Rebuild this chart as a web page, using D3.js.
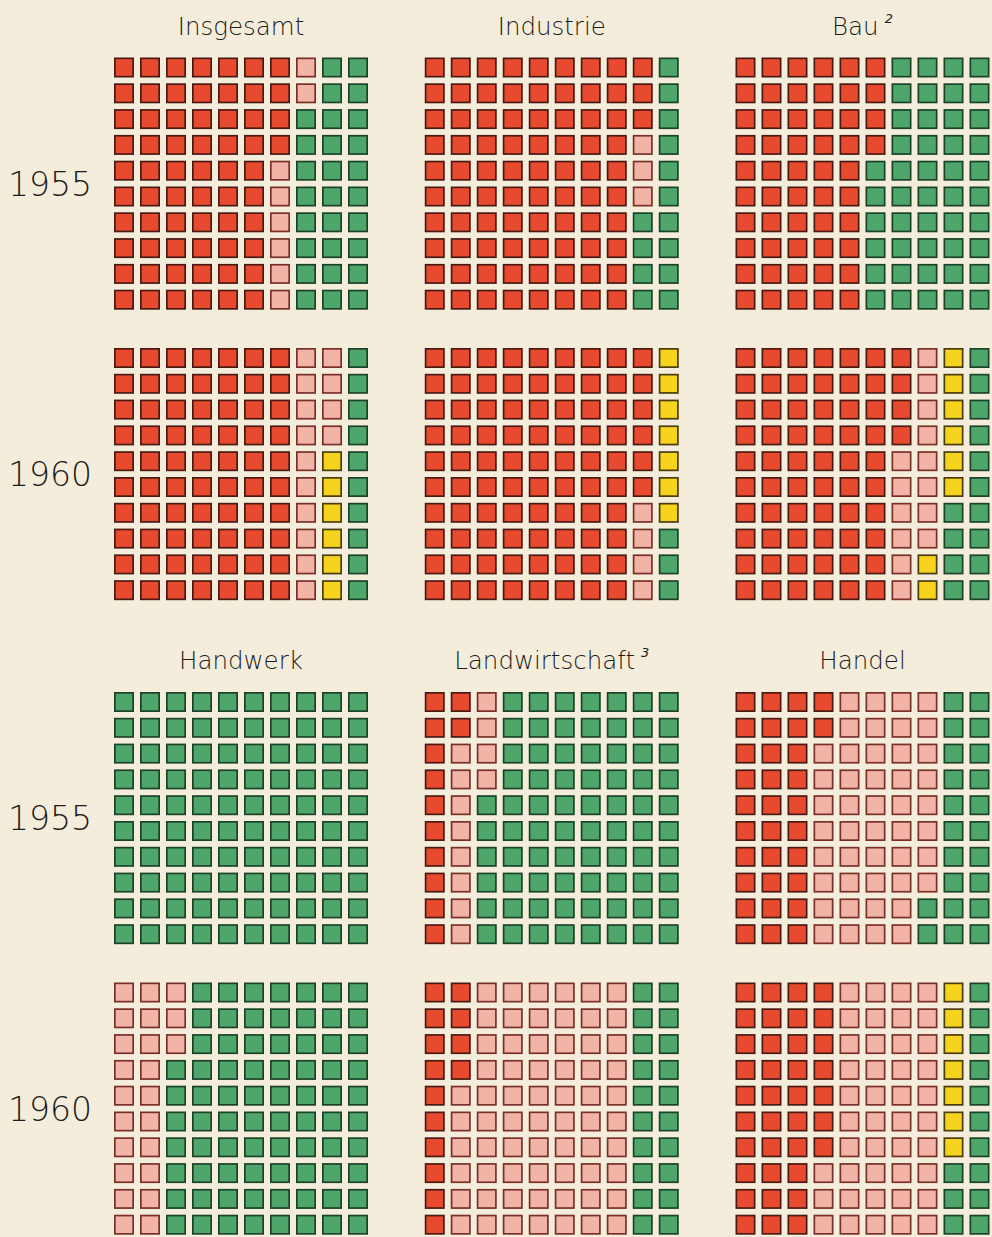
<!DOCTYPE html>
<html>
<head>
<meta charset="utf-8">
<script src="https://cdn.jsdelivr.net/npm/d3@7"></script>
<style>
  html, body { margin: 0; padding: 0; background: #f4eddb; }
  svg { display: block; }
  text { font-family: "DejaVu Sans", Lato, sans-serif; fill: #1c1c1c; }
</style>
</head>
<body>
<div id="chart"></div>
<script>
// Eigentumsformen, Anteile in Prozent (1 Quadrat = 1 %)
const sectors = ["Insgesamt", "Industrie", "Bau", "Handwerk", "Landwirtschaft", "Handel"];
const notes = ["", "", "2", "", "3", ""];
const years = ["1955", "1960"];
const categories = ["staatlich", "genossenschaftlich", "halbstaatlich", "privat"];

const staatlich1955 = [64, 83, 54, 0, 12, 32];
const genossen1955  = [8, 3, 0, 0, 12, 46];
const halbstaat1955 = [0, 0, 0, 0, 0, 0];
const privat1955    = [28, 14, 46, 100, 76, 22];

const staatlich1960 = [70, 86, 64, 0, 14, 37];
const genossen1960  = [14, 4, 14, 23, 66, 43];
const halbstaat1960 = [6, 7, 8, 0, 0, 7];
const privat1960    = [10, 3, 14, 77, 20, 13];

const colors = {
    staatlich: "#e84a2f",
    genossenschaftlich: "#f1b4a7",
    halbstaatlich: "#f6d31c",
    privat: "#4ea66a"
};
const strokes = {
    staatlich: "#4a1a12",
    genossenschaftlich: "#7a3028",
    halbstaatlich: "#4a3c0c",
    privat: "#1b4329"
};

const width = 992, height = 1237;

const svg = d3.select("#chart")
    .append("svg")
    .attr("width", width)
    .attr("height", height);

svg.append("rect")
    .attr("width", width)
    .attr("height", height)
    .attr("fill", "#f4eddb");

// panel placement
const colX = d3.scalePoint().domain([0, 1, 2]).range([114, 735.5]);
const blockY = d3.scalePoint().domain([0, 1]).range([57.5, 692]);
const yearOffset = 290.5;

// cells inside a panel
const cx = d3.scaleBand().domain(d3.range(10)).range([0, 9 * 26 + 20]).paddingInner(6 / 26);
const cy = d3.scaleBand().domain(d3.range(10)).range([0, 9 * 25.8 + 20]).paddingInner(5.8 / 25.8);

const byYear = {
    "1955": [staatlich1955, genossen1955, halbstaat1955, privat1955],
    "1960": [staatlich1960, genossen1960, halbstaat1960, privat1960]
};

const panels = [];
sectors.forEach((s, i) => {
    years.forEach((yr, j) => {
        const cells = [];
        categories.forEach((c, k) => {
            const n = byYear[yr][k][i];
            for (let m = 0; m < n; m++) cells.push(c);
        });
        panels.push({sector: s, idx: i, year: yr, yi: j, cells: cells});
    });
});

const g = svg.selectAll("g.panel")
    .data(panels)
    .enter()
    .append("g")
    .attr("class", "panel")
    .attr("transform", d => "translate(" + colX(d.idx % 3) + "," + (blockY(Math.floor(d.idx / 3)) + d.yi * yearOffset) + ")");

const inset = 0.85;
g.selectAll("rect")
    .data(d => d.cells.map((c, i) => ({cat: c, col: Math.floor(i / 10), row: i % 10})))
    .enter()
    .append("rect")
    .attr("x", d => cx(d.col) + inset)
    .attr("y", d => cy(d.row) + inset)
    .attr("width", cx.bandwidth() - 2 * inset)
    .attr("height", cy.bandwidth() - 2 * inset)
    .attr("fill", d => colors[d.cat])
    .attr("stroke", d => strokes[d.cat])
    .attr("stroke-width", 1.7);

// sector titles
const titles = svg.selectAll("text.title")
    .data(sectors)
    .enter()
    .append("text")
    .attr("class", "title")
    .attr("x", (d, i) => colX(i % 3) + (9 * 26 + 20) / 2)
    .attr("y", (d, i) => blockY(Math.floor(i / 3)) - 23)
    .attr("text-anchor", "middle")
    .style("font-size", "24.5px")
    .style("font-weight", 200);

titles.append("tspan").text(d => d);
titles.append("tspan")
    .attr("dx", 6)
    .attr("dy", -12)
    .style("font-size", "13px")
    .style("font-style", "italic")
    .text((d, i) => notes[i]);

// year labels
const yearLabels = [];
[0, 1].forEach(b => years.forEach((yr, j) => yearLabels.push({year: yr, b: b, j: j})));

svg.selectAll("text.year")
    .data(yearLabels)
    .enter()
    .append("text")
    .attr("class", "year")
    .attr("x", 8)
    .attr("y", d => blockY(d.b) + d.j * yearOffset + cy.range()[1] / 2 + 12)
    .style("font-size", "33px")
    .style("font-weight", 200)
    .text(d => d.year);
</script>
</body>
</html>
